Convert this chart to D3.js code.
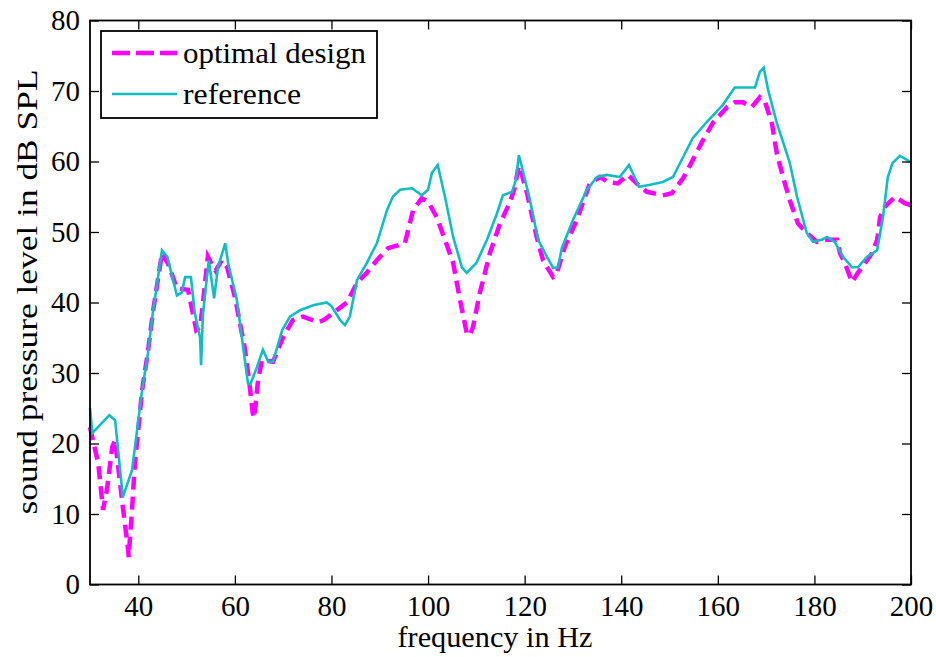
<!DOCTYPE html>
<head>
  <meta charset="utf-8">
  <title>sound pressure level</title>
  <script src="https://d3js.org/d3.v7.min.js"></script>
  <style>
    body { margin: 0; background: #fff; }
    text { font-family: "Liberation Serif", "DejaVu Serif", serif; fill: #000; }
  </style>
</head>
<body>
<svg width="936" height="657"></svg>
<script>

// reference response (cyan)
var refFreq = [30, 30.5, 34, 35.2, 36.8, 38.7, 40.8, 42, 43, 44.9, 46, 48, 49, 49.7, 50.9, 51.7, 52.8, 53, 53.4, 54.6,
  55.7, 56.5, 58, 58.6, 60.4, 62.7, 63.2, 64.6, 65.8, 66.9, 67.9, 69.8, 71.4, 73.5, 76.2, 79, 80, 81.8, 82.8, 83.8,
  85.3, 87.3, 89.4, 91.5, 92.7, 94.2, 96.7, 98.7, 100, 100.8, 102, 103.5, 105.2, 107, 108, 110, 112.2, 114.3, 115.5, 117.4,
  118.2, 118.8, 119.6, 121.1, 122.8, 124.6, 125.9, 126.9, 127.7, 130, 132.9, 135, 137, 139.7, 141.6, 143.7, 146, 148.6, 150.7, 152.8,
  154.8, 157.7, 161, 163.5, 167.7, 168.7, 169.5, 170.4, 172.2, 174.9, 176.4, 178.4, 179.7, 181.5, 182.6, 184.2, 185.9, 187.8, 189, 190.9,
  193, 194.2, 195.2, 196.2, 197.7, 200];
var refDb = [25, 21.5, 24, 23.3, 12.4, 16.2, 27.6, 32.8, 38.5, 47.4, 46.5, 41, 41.4, 43.6, 43.6, 38.5, 35, 31.1, 38.5, 46,
  40.6, 45, 48.4, 45.6, 40.4, 28.6, 28.4, 30.9, 33.3, 31.6, 31.6, 36.1, 38, 38.9, 39.6, 40, 39.5, 37.5, 36.8, 38,
  43.2, 45.6, 48.4, 53.1, 55, 56, 56.2, 55.2, 56, 58.4, 59.5, 55, 49.3, 45, 44.2, 45.6, 48.9, 52.7, 55.2, 55.7,
  57.4, 60.9, 58.8, 54.5, 48.9, 46.5, 44.9, 45, 47.7, 51.7, 56, 57.8, 58.1, 57.8, 59.5, 56.4, 56.7, 57.1, 57.8, 60.6,
  63.3, 65.6, 68, 70.5, 70.5, 72.7, 73.3, 70.2, 65.5, 59.8, 55, 49.9, 48.6, 48.9, 49.3, 48.6, 46.5, 45, 45, 46.5,
  47.4, 52.1, 57.8, 59.8, 60.8, 59.9];

// optimal design (magenta, dashed)
var optFreq = [30, 31.7, 32.7, 33.5, 34.6, 35.2, 36.8, 37.9, 38, 38.7, 39.3, 40.8, 42, 43, 44.9, 46.1, 48, 50.3, 52, 52.8,
  53.4, 54.4, 55.5, 56, 57.3, 58.4, 60, 62, 63, 63.7, 64, 64.8, 65.6, 67.9, 70, 72, 74.1, 77.2, 78.4, 80.3,
  83.2, 85.3, 87.3, 89.4, 91.7, 94.2, 95.2, 96.9, 98.7, 100, 101.8, 103.5, 105.2, 106.6, 108, 108.6, 109.3, 110.7, 112.8, 114.9,
  117, 118, 118.6, 118.9, 120.5, 122.5, 123.8, 125.9, 126.5, 128.3, 130.8, 133.5, 135.6, 137.2, 139.3, 141.4, 143.2, 145.3, 148.6, 150.5,
  152.8, 154.8, 156.9, 159, 161.9, 163.5, 165.2, 167, 168.7, 169.8, 171.2, 172.2, 173.5, 174.9, 176.6, 178.4, 180.5, 182.6, 184.7, 185.3,
  186.3, 187.4, 187.8, 189, 190.5, 191.9, 193, 193.6, 194.6, 196.7, 198.7, 200];
var optDb = [22.3, 17.2, 10.6, 13.4, 19.5, 20.5, 11, 4.9, 3.9, 10.6, 17.2, 27.6, 33, 38.5, 47, 45.6, 42, 41.8, 36.1, 36.5,
  40, 46.5, 45, 44.5, 46, 45, 40.8, 33.7, 28.6, 24.3, 23.6, 29, 31.8, 31.6, 35.1, 37.5, 38, 37.2, 37.5, 38.5,
  40, 42.8, 44.2, 46, 47.7, 48.2, 48.4, 53.1, 54.8, 54.3, 52.1, 48.9, 45.6, 40.4, 35.7, 35.3, 36.5, 41.3, 47, 51.2,
  54.3, 56.4, 58.8, 59.4, 55.5, 49.3, 46, 43.6, 43.8, 47.9, 51.7, 56.9, 57.8, 57.1, 56.9, 58.1, 56.9, 55.7, 55.2, 55.5,
  57.6, 60.2, 63, 65.5, 67.7, 68.4, 68.4, 67.7, 69.1, 68.4, 65.4, 61.2, 57.8, 54.5, 51.2, 49.9, 48.6, 48.9, 48.9, 47,
  45.6, 43.6, 42.9, 44.2, 45.6, 47, 48.9, 52.1, 53.6, 55, 54.1, 53.8];

var xTicks = [40, 60, 80, 100, 120, 140, 160, 180, 200];
var yTicks = [0, 10, 20, 30, 40, 50, 60, 70, 80];

var svg = d3.select('svg');
var margin = {top: 20.5, right: 25, bottom: 72.5, left: 90};
var width = +svg.attr('width') - margin.left - margin.right;
var height = +svg.attr('height') - margin.top - margin.bottom;

var x = d3.scaleLinear().domain([30, 200]).range([0, width]);
var y = d3.scaleLinear().domain([0, 80]).range([height, 0]);

var g = svg.append('g')
  .attr('transform', 'translate(' + margin.left + ',' + margin.top + ')');

// data lines, magenta under cyan
var line = d3.line()
  .x(function(d) { return x(d[0]); })
  .y(function(d) { return y(d[1]); });

g.append('path')
  .datum(d3.zip(optFreq, optDb))
  .attr('d', line)
  .attr('fill', 'none')
  .attr('stroke', '#ff00ff')
  .attr('stroke-width', 4.5)
  .attr('stroke-dasharray', '13,7');

g.append('path')
  .datum(d3.zip(refFreq, refDb))
  .attr('d', line)
  .attr('fill', 'none')
  .attr('stroke', '#14bdbd')
  .attr('stroke-width', 2.6);

// axes, matlab style box with inward ticks
var tick = 9;
var fs = 29;

g.append('g')
  .attr('transform', 'translate(0,' + height + ')')
  .call(d3.axisBottom(x).tickValues(xTicks).tickSizeInner(-tick).tickSizeOuter(0).tickPadding(11))
  .call(function(a) {
    a.select('.domain').remove();
    a.selectAll('line').attr('stroke', '#000').attr('stroke-width', 1.3);
    a.selectAll('text').attr('font-size', fs).attr('font-family', '"Liberation Serif", serif');
  });

g.append('g')
  .call(d3.axisLeft(y).tickValues(yTicks).tickSizeInner(-tick).tickSizeOuter(0).tickPadding(10))
  .call(function(a) {
    a.select('.domain').remove();
    a.selectAll('line').attr('stroke', '#000').attr('stroke-width', 1.3);
    a.selectAll('text').attr('font-size', fs).attr('font-family', '"Liberation Serif", serif');
  });

g.append('g')
  .call(d3.axisTop(x).tickValues(xTicks).tickSizeInner(-tick).tickSizeOuter(0).tickFormat(''))
  .call(function(a) {
    a.select('.domain').remove();
    a.selectAll('line').attr('stroke', '#000').attr('stroke-width', 1.3);
  });

g.append('g')
  .attr('transform', 'translate(' + width + ',0)')
  .call(d3.axisRight(y).tickValues(yTicks).tickSizeInner(-tick).tickSizeOuter(0).tickFormat(''))
  .call(function(a) {
    a.select('.domain').remove();
    a.selectAll('line').attr('stroke', '#000').attr('stroke-width', 1.3);
  });

g.append('rect')
  .attr('width', width)
  .attr('height', height)
  .attr('fill', 'none')
  .attr('stroke', '#000')
  .attr('stroke-width', 1.8);

// axis titles
g.append('text')
  .attr('x', 405)
  .attr('y', height + 62)
  .attr('text-anchor', 'middle')
  .attr('font-size', fs)
  .attr('textLength', 195)
  .attr('lengthAdjust', 'spacingAndGlyphs')
  .text('frequency in Hz');

g.append('text')
  .attr('transform', 'translate(' + (-53) + ',' + (292 - margin.top) + ') rotate(-90)')
  .attr('text-anchor', 'middle')
  .attr('font-size', 30)
  .attr('textLength', 445)
  .attr('lengthAdjust', 'spacingAndGlyphs')
  .text('sound pressure level in dB SPL');

// legend
var legend = svg.append('g').attr('transform', 'translate(101,31)');
legend.append('rect')
  .attr('width', 276)
  .attr('height', 87)
  .attr('fill', '#fff')
  .attr('stroke', '#000')
  .attr('stroke-width', 1.8);

var items = [
  {name: 'optimal design', color: '#ff00ff', w: 4.5, dash: '18,6', len: 183},
  {name: 'reference', color: '#14bdbd', w: 2.6, dash: null, len: 118}
];
items.forEach(function(it, i) {
  var yy = 22 + i * 41;
  legend.append('line')
    .attr('x1', 11).attr('x2', 76)
    .attr('y1', yy).attr('y2', yy)
    .attr('stroke', it.color)
    .attr('stroke-width', it.w)
    .attr('stroke-dasharray', it.dash);
  legend.append('text')
    .attr('x', 82)
    .attr('y', yy + 10)
    .attr('font-size', fs)
    .attr('textLength', it.len)
    .attr('lengthAdjust', 'spacingAndGlyphs')
    .text(it.name);
});

</script>
</body>
